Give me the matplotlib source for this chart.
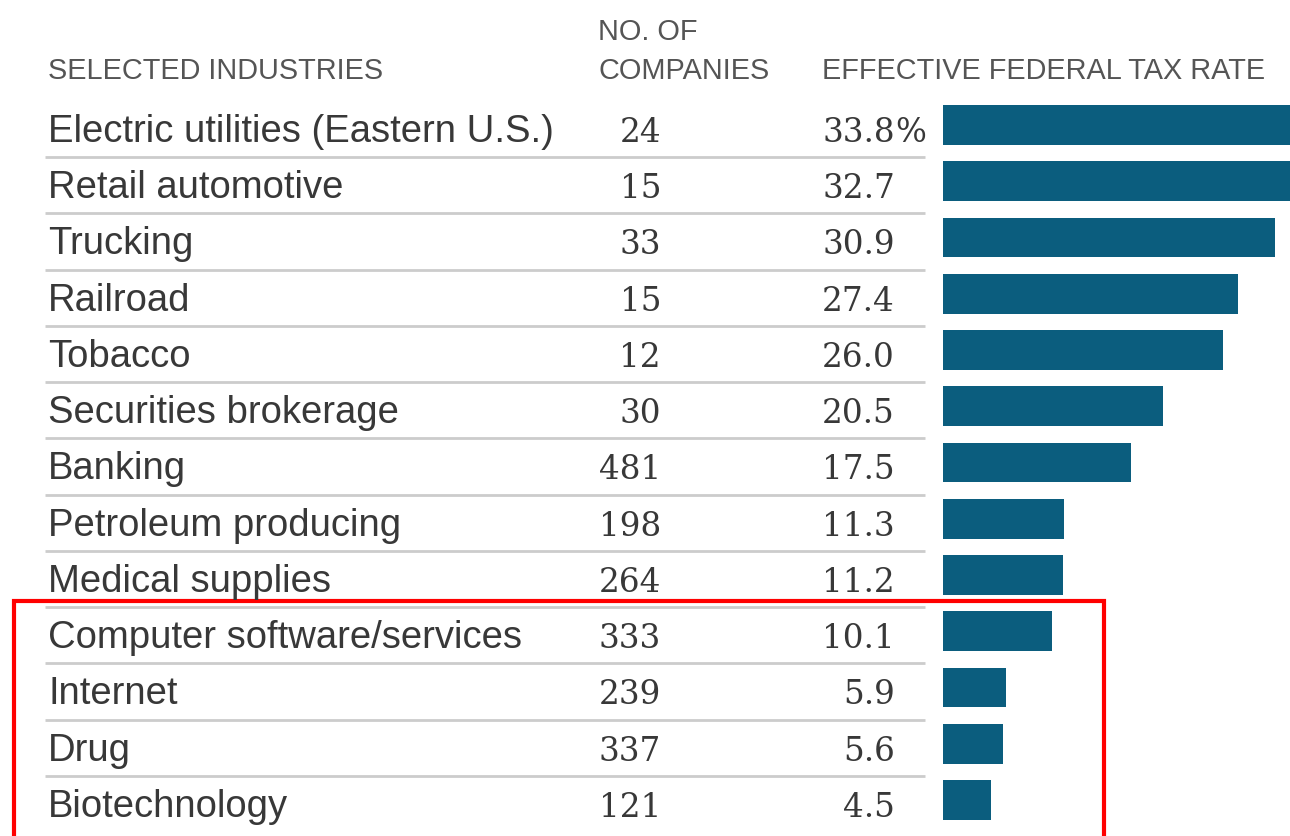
import matplotlib.pyplot as plt

industries = [
    "Electric utilities (Eastern U.S.)",
    "Retail automotive",
    "Trucking",
    "Railroad",
    "Tobacco",
    "Securities brokerage",
    "Banking",
    "Petroleum producing",
    "Medical supplies",
    "Computer software/services",
    "Internet",
    "Drug",
    "Biotechnology",
]
num_companies = [24, 15, 33, 15, 12, 30, 481, 198, 264, 333, 239, 337, 121]
tax_rate = [33.8, 32.7, 30.9, 27.4, 26.0, 20.5, 17.5, 11.3, 11.2, 10.1, 5.9, 5.6, 4.5]
highlight_from = 9  # first row inside the red box

W, H = 1290, 836
row0, step = 125, 56.25  # pixel centre of first row, row pitch
y_top = -row0 / step
y_bot = (H - row0) / step

label_font = ["Liberation Sans", "DejaVu Sans"]
num_font = ["DejaVu Serif"]
text_col = "#383838"
head_col = "#555555"
bar_col = "#0b5d7e"

fig = plt.figure(figsize=(W / 100, H / 100), dpi=100)

# table axes: x in pixels, y in row units
ax = fig.add_axes([0, 0, 1, 1])
ax.set_xlim(0, W)
ax.set_ylim(y_bot, y_top)
ax.axis("off")

# bar axes, same rows, x in percent
bar_left = 943
px_per_pct = 10.75
bx = fig.add_axes([bar_left / W, 0, (W - bar_left) / W, 1])
bx.set_xlim(0, (W - bar_left) / px_per_pct)
bx.set_ylim(y_bot, y_top)
bx.axis("off")

rows = list(range(len(industries)))
bx.barh(rows, tax_rate, height=0.71, color=bar_col)

# headers
hy = -0.82
hy2 = -1.51
hs = 20.8
ax.text(48, hy, "SELECTED INDUSTRIES", family=label_font, fontsize=hs,
        color=head_col, va="baseline")
ax.text(598, hy, "COMPANIES", family=label_font, fontsize=hs,
        color=head_col, va="baseline")
ax.text(598, hy2, "NO. OF", family=label_font, fontsize=hs,
        color=head_col, va="baseline")
ax.text(822, hy, "EFFECTIVE FEDERAL TAX RATE", family=label_font, fontsize=hs,
        color=head_col, va="baseline")

base = 0.3  # baseline offset below row centre
for i, (name, n, r) in enumerate(zip(industries, num_companies, tax_rate)):
    ax.text(48, i + base, name, family=label_font, fontsize=27.5,
            color=text_col, va="baseline")
    ax.text(661, i + base, str(n), family=num_font, fontsize=23.5,
            color=text_col, va="baseline", ha="right")
    ax.text(895, i + base, f"{r:.1f}", family=num_font, fontsize=23.5,
            color=text_col, va="baseline", ha="right")
    if i == 0:
        ax.text(895, i + base, "%", family=num_font, fontsize=23.5,
                color=text_col, va="baseline", ha="left")
    if i < len(industries) - 1:
        ax.plot([45, 925], [i + 0.57, i + 0.57], color="#cccccc", lw=2,
                solid_capstyle="butt")

# red highlight box (bottom edge runs off the picture)
yb = highlight_from - 0.5 - 0.04
ax.plot([14, 14, 1104, 1104], [y_bot + 0.5, yb, yb, y_bot + 0.5],
        color="#ff0000", lw=3, solid_joinstyle="miter")

fig.savefig("out.png", dpi=100)
